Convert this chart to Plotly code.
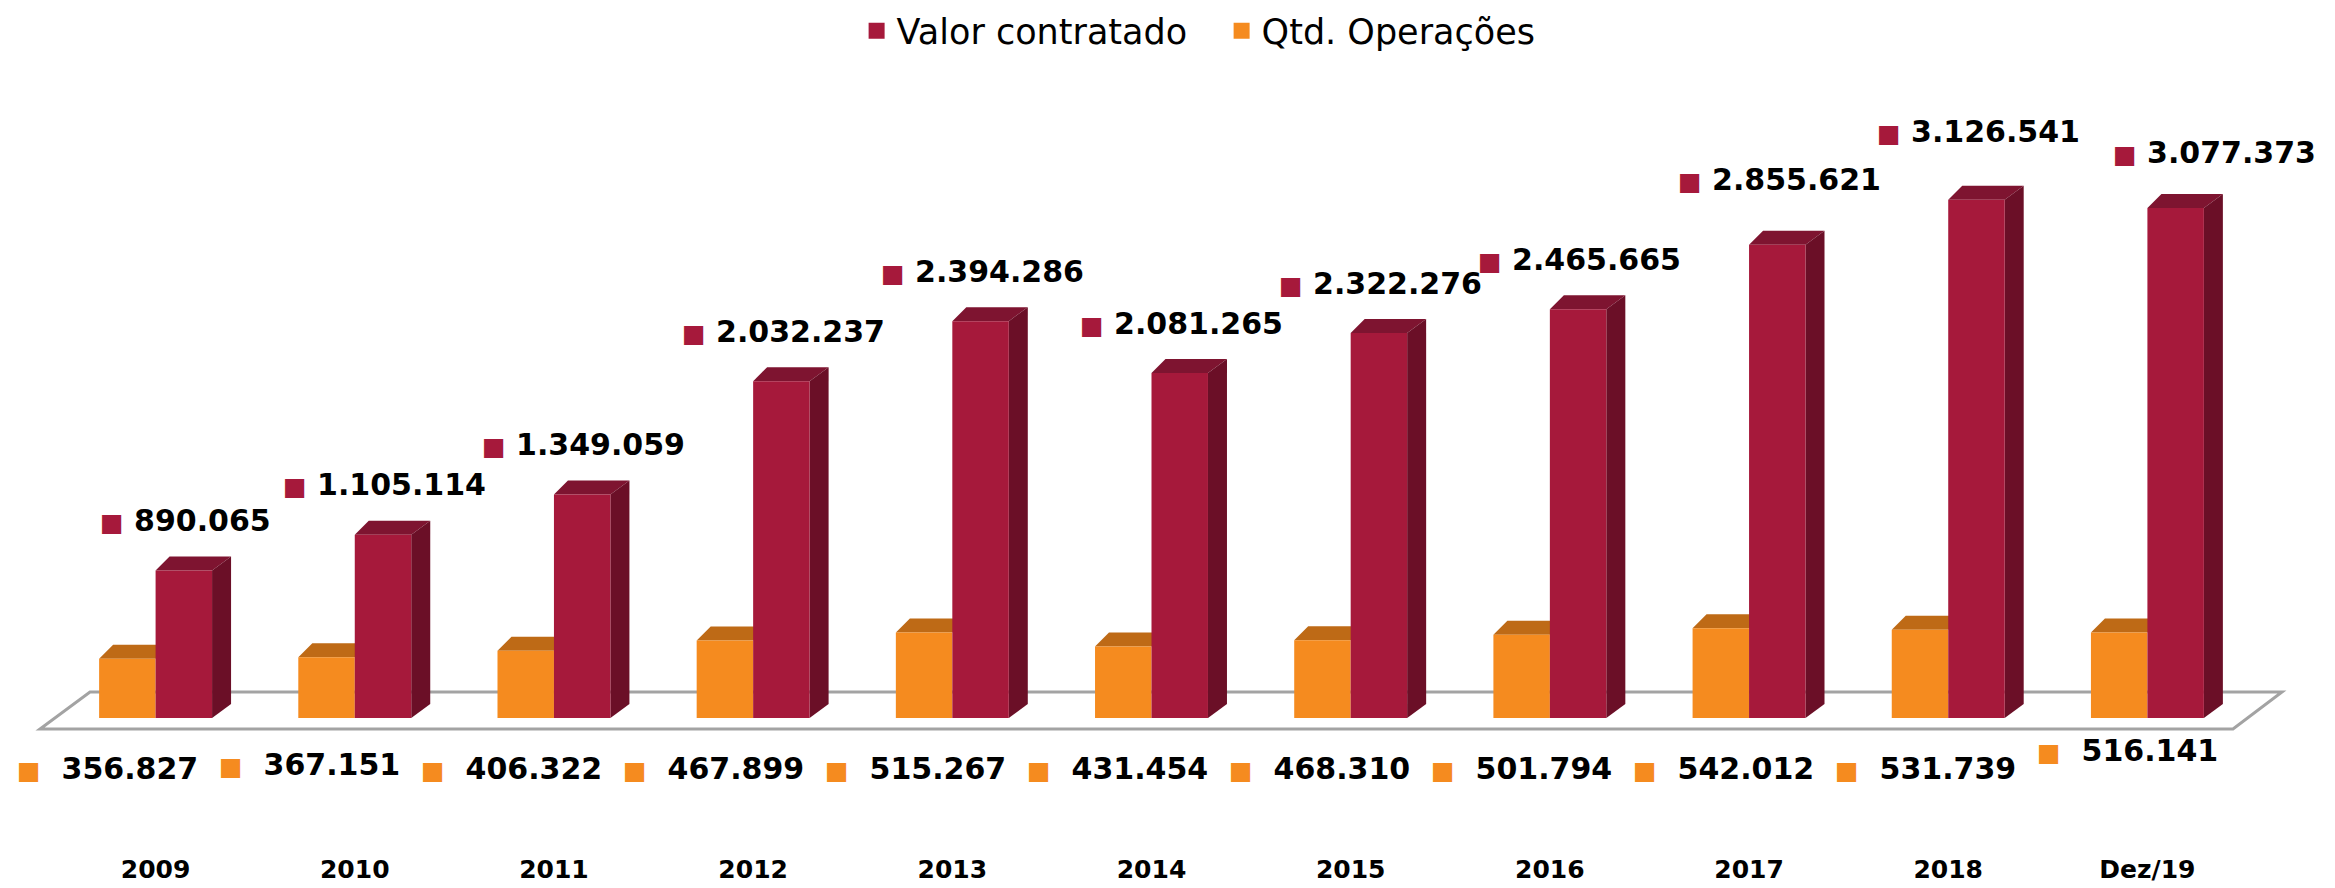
import plotly.graph_objects as go

categorias = ["2009", "2010", "2011", "2012", "2013", "2014", "2015", "2016", "2017", "2018", "Dez/19"]
valor_contratado = [890065, 1105114, 1349059, 2032237, 2394286, 2081265, 2322276, 2465665, 2855621, 3126541, 3077373]
qtd_operacoes = [356827, 367151, 406322, 467899, 515267, 431454, 468310, 501794, 542012, 531739, 516141]

VERMELHO = "#A6193B"
VERMELHO_LADO = "#6B0F27"
VERMELHO_TOPO = "#7E1430"
LARANJA = "#F58B1F"
LARANJA_TOPO = "#BE6A16"

W, H = 2335, 888
OFF = 8  # margem padrão do <body> na página
ML, MT = 56 - OFF, 171 - OFF
PW, PH = 2191, 547
MR, MB = W - ML - PW, H - MT - PH
YMAX = 3.3e6
BARGAP = 0.433

n = len(categorias)
idx = list(range(n))
px_x = PW / n          # pixels por categoria
px_y = PH / YMAX       # pixels por unidade de valor

# profundidade "3D" em pixels
DX_L, DX_R, DY = 14, 19, 14
dxl, dxr, dy = DX_L / px_x, DX_R / px_x, DY / px_y

gw = 1 - BARGAP
bw = gw / 2


def fmt(v):
    return f"{v:,}".replace(",", ".")


fig = go.Figure()
fig.add_trace(go.Bar(x=idx, y=qtd_operacoes, marker=dict(color=LARANJA, line=dict(width=0)),
                     showlegend=False, hoverinfo="skip"))
fig.add_trace(go.Bar(x=idx, y=valor_contratado, marker=dict(color=VERMELHO, line=dict(width=0)),
                     showlegend=False, hoverinfo="skip"))
# entradas da legenda
fig.add_trace(go.Scatter(x=[None], y=[None], mode="markers", name="Valor contratado",
                         marker=dict(symbol="square", size=20, color=VERMELHO)))
fig.add_trace(go.Scatter(x=[None], y=[None], mode="markers", name="Qtd. Operações",
                         marker=dict(symbol="square", size=20, color=LARANJA)))

shapes = []


def ppx(px):
    return (px - OFF - ML) / PW


def ppy(py):
    return (MT + OFF + PH - py) / PH


# piso
piso = "M {},{} L {},{} L {},{} L {},{} Z".format(
    ppx(40), ppy(729), ppx(2233), ppy(729), ppx(2282), ppy(692), ppx(90), ppy(692))
shapes.append(dict(type="path", xref="paper", yref="paper", path=piso,
                   line=dict(color="#A3A3A3", width=3), fillcolor="white", layer="below"))


def poly(pts):
    return "M " + " L ".join(f"{x},{y}" for x, y in pts) + " Z"


for i in idx:
    # laranja: topo
    xl, xr, v = i - bw, i, qtd_operacoes[i]
    shapes.append(dict(type="path", xref="x", yref="y", layer="below", line=dict(width=0),
                       fillcolor=LARANJA_TOPO,
                       path=poly([(xl, v), (xr, v), (xr + dxr, v + dy), (xl + dxl, v + dy)])))
    # vermelho: topo e lado
    xl, xr, v = i, i + bw, valor_contratado[i]
    shapes.append(dict(type="path", xref="x", yref="y", layer="below", line=dict(width=0),
                       fillcolor=VERMELHO_TOPO,
                       path=poly([(xl, v), (xr, v), (xr + dxr, v + dy), (xl + dxl, v + dy)])))
    shapes.append(dict(type="path", xref="x", yref="y", layer="below", line=dict(width=0),
                       fillcolor=VERMELHO_LADO,
                       path=poly([(xr, 0), (xr, v), (xr + dxr, v + dy), (xr + dxr, dy)])))

annotations = []
ajuste_vermelho = {8: 15, 9: 18, 10: 5}
ajuste_vermelho_x = {10: 37}
ajuste_laranja = {1: 4, 10: 18}
fonte_rotulo = dict(family="DejaVu Sans", size=30, color="black", weight="bold")
for i in idx:
    annotations.append(dict(
        x=i, y=valor_contratado[i], xref="x", yref="y", showarrow=False,
        xshift=30 + ajuste_vermelho_x.get(i, 0), yshift=50 + ajuste_vermelho.get(i, 0),
        text=f"<span style='color:{VERMELHO};font-size:25px'>■</span> {fmt(valor_contratado[i])}",
        font=fonte_rotulo))
    annotations.append(dict(
        x=i - bw / 2, y=0, xref="x", yref="y", showarrow=False,
        xshift=-20 + 2.8 * i, yshift=-50 + ajuste_laranja.get(i, 0),
        text=f"<span style='color:{LARANJA};font-size:25px'>■</span>  {fmt(qtd_operacoes[i])}",
        font=fonte_rotulo))

fig.update_layout(
    width=W, height=H,
    margin=dict(l=ML, r=MR, t=MT, b=MB, autoexpand=False),
    paper_bgcolor="white", plot_bgcolor="white",
    barmode="group", bargap=BARGAP, bargroupgap=0,
    font=dict(family="DejaVu Sans", color="black"),
    xaxis=dict(range=[-0.5, n - 0.5], tickvals=idx, ticktext=categorias,
               showgrid=False, zeroline=False, showline=False, ticks="",
               tickfont=dict(size=25, weight="bold", color="black"),
               ticklabelstandoff=134, automargin=False),
    yaxis=dict(range=[0, YMAX], visible=False, showgrid=False, zeroline=False, automargin=False),
    legend=dict(orientation="h", x=0.532, xanchor="center",
                yref="container", y=1 - (31 - OFF) / H, yanchor="middle",
                font=dict(size=35, color="black"), itemsizing="trace",
                entrywidth=320, itemwidth=30),
    shapes=shapes,
    annotations=annotations,
)

fig.write_html("out.html")
